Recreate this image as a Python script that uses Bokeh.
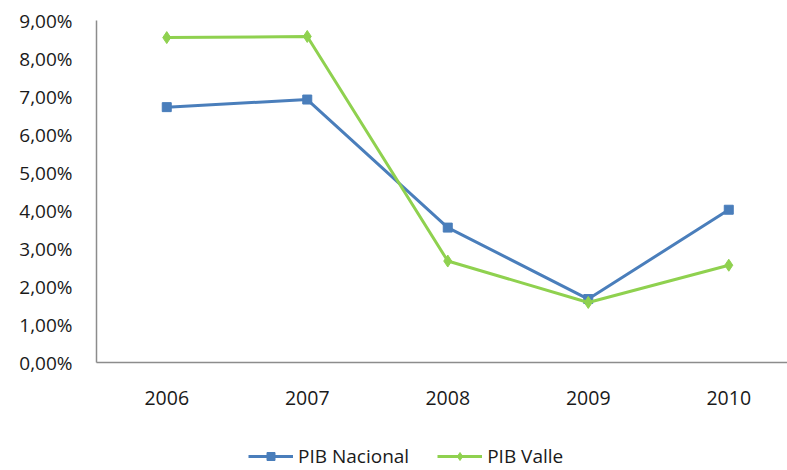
from bokeh.plotting import figure
from bokeh.models import FixedTicker, Range1d, Legend, LegendItem
from bokeh.layouts import column
from bokeh.embed import file_html
from bokeh.resources import INLINE

years = ["2006", "2007", "2008", "2009", "2010"]
pib_nacional = [6.72, 6.92, 3.55, 1.67, 4.02]
pib_valle = [8.55, 8.58, 2.67, 1.58, 2.56]
y_ticks = [0, 1, 2, 3, 4, 5, 6, 7, 8, 9]
y_tick_labels = ["0,00%", "1,00%", "2,00%", "3,00%", "4,00%", "5,00%", "6,00%", "7,00%", "8,00%", "9,00%"]
series_names = ["PIB Nacional", "PIB Valle"]

BLUE = "#4A7EBB"
GREEN = "#8FD14F"
FONT = "Open Sans"
TXT = "#1a1a1a"
AXIS = "#8c8c8c"

xs = list(range(len(years)))

p = figure(width=787, height=440, output_backend="svg", toolbar_location=None,
           x_range=Range1d(-0.5, 4.418), y_range=Range1d(0, 9),
           min_border_left=96, min_border_top=20, min_border_bottom=78, min_border_right=0)
p.outline_line_color = None
p.xgrid.visible = False
p.ygrid.visible = False
p.background_fill_color = "white"
p.border_fill_color = "white"

p.line(xs, pib_nacional, line_color=BLUE, line_width=3)
p.scatter(xs, pib_nacional, marker="square", size=9, fill_color=BLUE, line_color=BLUE)
p.line(xs, pib_valle, line_color=GREEN, line_width=3)
p.scatter(xs, pib_valle, marker="diamond", size=12, fill_color=GREEN, line_color=GREEN)

# axes
p.yaxis.ticker = FixedTicker(ticks=y_ticks)
p.yaxis.major_label_overrides = {t: lab for t, lab in zip(y_ticks, y_tick_labels)}
p.xaxis.ticker = FixedTicker(ticks=xs)
p.xaxis.major_label_overrides = {x: y for x, y in zip(xs, years)}
for ax in (p.xaxis[0], p.yaxis[0]):
    ax.axis_line_color = AXIS
    ax.axis_line_width = 1.5
    ax.major_tick_line_color = None
    ax.minor_tick_line_color = None
    ax.major_tick_out = 0
    ax.major_tick_in = 0
    ax.major_label_text_font = FONT
    ax.major_label_text_color = TXT
p.yaxis.major_label_text_font_size = "19px"
p.yaxis.major_label_standoff = 24
p.xaxis.major_label_text_font_size = "19.5px"
p.xaxis.major_label_standoff = 28

# legend strip below the chart (key glyphs only; NaN data draws nothing)
nan = float("nan")
lg = figure(width=787, height=30, output_backend="svg", toolbar_location=None,
            x_range=Range1d(0, 1), y_range=Range1d(0, 1),
            x_axis_location=None, y_axis_location=None,
            min_border_left=0, min_border_right=0, min_border_top=0, min_border_bottom=0)
lg.outline_line_color = None
lg.xgrid.visible = False
lg.ygrid.visible = False
k1 = lg.line(x=[nan], y=[nan], line_color=BLUE, line_width=3)
k1m = lg.scatter(x=[nan], y=[nan], marker="square", size=9, fill_color=BLUE, line_color=BLUE)
k2 = lg.line(x=[nan], y=[nan], line_color=GREEN, line_width=3)
k2m = lg.scatter(x=[nan], y=[nan], marker="diamond", size=12, fill_color=GREEN, line_color=GREEN)

legend = Legend(items=[LegendItem(label=series_names[0], renderers=[k1, k1m]),
                       LegendItem(label=series_names[1], renderers=[k2, k2m])],
                orientation="horizontal", location=(152, 1),
                padding=0, margin=0, spacing=28, glyph_width=45, glyph_height=20,
                label_standoff=5, label_text_font=FONT, label_text_font_size="19px",
                label_text_color=TXT, border_line_color=None, background_fill_alpha=0)
lg.add_layout(legend)

layout = column(p, lg, spacing=0)
open("out.html", "w").write(file_html(layout, INLINE))
